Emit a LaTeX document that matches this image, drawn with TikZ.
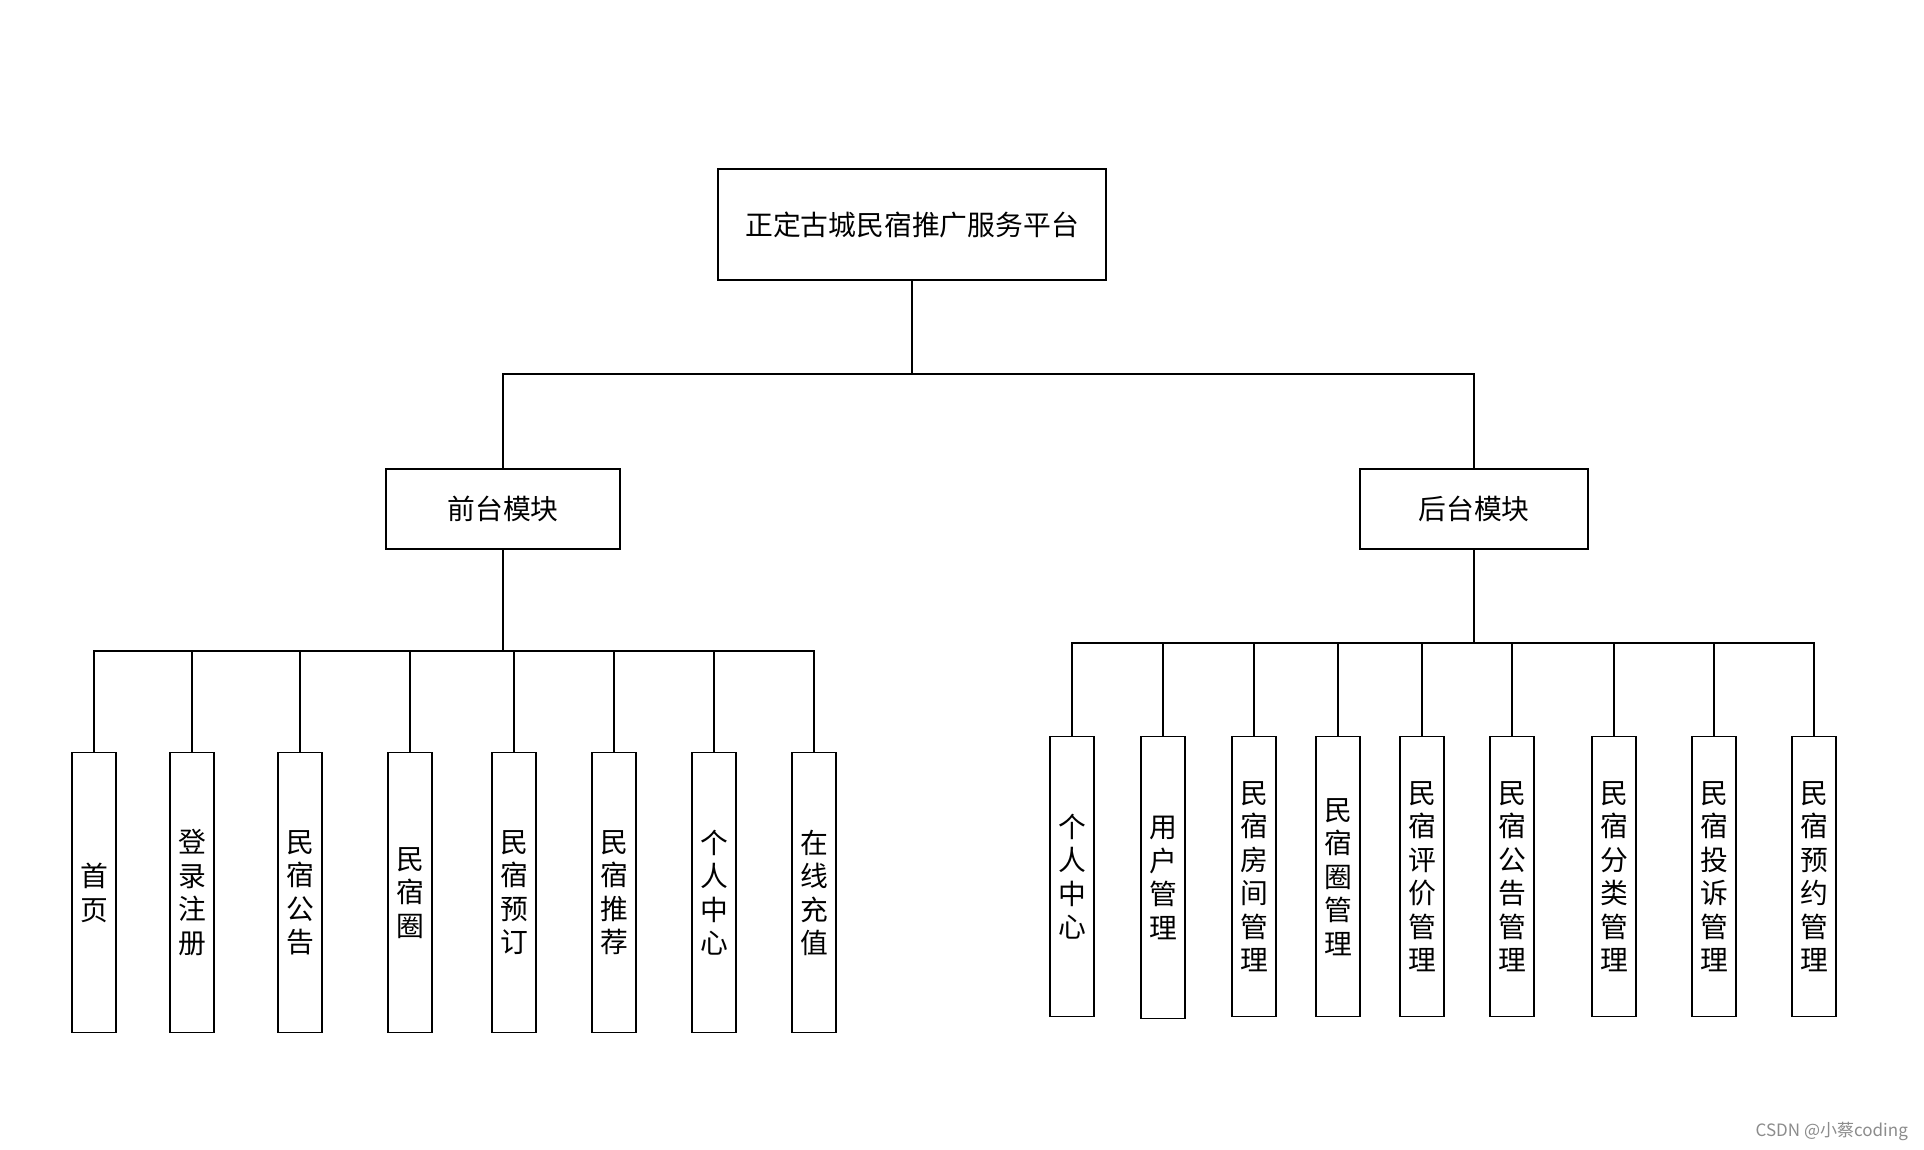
\documentclass[tikz,border=0pt]{standalone}
\usepackage{fontspec}
\newfontfamily\cjk{Noto Sans CJK SC}
\begin{document}
\begin{tikzpicture}[x=1pt,y=-1pt,
  box/.style={draw=black, line width=1.5pt, inner sep=0pt, font=\cjk\fontsize{27.8}{33.5}\selectfont, align=center},
  leaf/.style={box, minimum width=44pt, minimum height=280pt},
  conn/.style={draw=black, line width=1.5pt}]
\fill[white] (0,0) rectangle (1924,1150);
\useasboundingbox (0,0) rectangle (1924,1150);
\node[box, minimum width=388pt, minimum height=111pt] (root) at (912,224.5) {正定古城民宿推广服务平台};
\node[box, minimum width=234pt, minimum height=80pt] (front) at (503,509) {前台模块};
\node[box, minimum width=228pt, minimum height=80pt] (back) at (1474,509) {后台模块};
% front leaves
\node[leaf] (f1) at (94,892.7) {首\\页};
\node[leaf] (f2) at (192,892.7) {登\\录\\注\\册};
\node[leaf] (f3) at (300,892.7) {民\\宿\\公\\告};
\node[leaf] (f4) at (410,892.7) {民\\宿\\圈};
\node[leaf] (f5) at (514,892.7) {民\\宿\\预\\订};
\node[leaf] (f6) at (614,892.7) {民\\宿\\推\\荐};
\node[leaf] (f7) at (714,892.7) {个\\人\\中\\心};
\node[leaf] (f8) at (814,892.7) {在\\线\\充\\值};
% back leaves
\node[leaf] (b1) at (1072,876.7) {个\\人\\中\\心};
\node[leaf, minimum height=282pt] (b2) at (1163,877.7) {用\\户\\管\\理};
\node[leaf] (b3) at (1254,876.7) {民\\宿\\房\\间\\管\\理};
\node[leaf] (b4) at (1338,876.7) {民\\宿\\圈\\管\\理};
\node[leaf] (b5) at (1422,876.7) {民\\宿\\评\\价\\管\\理};
\node[leaf] (b6) at (1512,876.7) {民\\宿\\公\\告\\管\\理};
\node[leaf] (b7) at (1614,876.7) {民\\宿\\分\\类\\管\\理};
\node[leaf] (b8) at (1714,876.7) {民\\宿\\投\\诉\\管\\理};
\node[leaf] (b9) at (1814,876.7) {民\\宿\\预\\约\\管\\理};
% connectors
\coordinate (rbus) at (root.south |- 0,374);
\draw[conn] (root.south) -- (rbus) -| (front.north);
\draw[conn] (rbus) -| (back.north);
\coordinate (fbus) at (front.south |- 0,651);
\draw[conn] (front.south) -- (fbus);
\foreach \n in {f1,f2,f3,f4,f5,f6,f7,f8} {\draw[conn] (fbus) -| (\n.north);}
\coordinate (bbus) at (back.south |- 0,643);
\draw[conn] (back.south) -- (bbus);
\foreach \n in {b1,b2,b3,b4,b5,b6,b7,b8,b9} {\draw[conn] (bbus) -| (\n.north);}
% watermark
\node[font=\cjk\fontsize{17}{17}\selectfont, text=black!45, anchor=east, inner sep=0pt] (wm) at (1908,1131) {CSDN @小蔡coding};
\end{tikzpicture}
\end{document}
